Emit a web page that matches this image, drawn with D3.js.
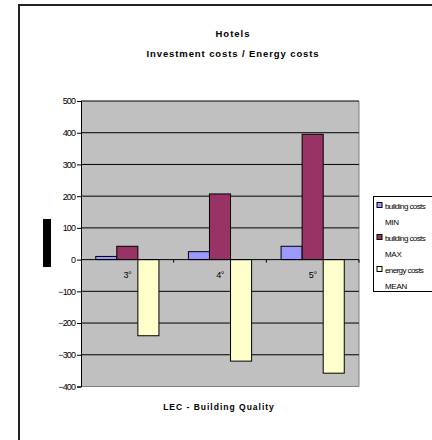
<!DOCTYPE html>
<html><head><meta charset="utf-8">
<script src="https://cdn.jsdelivr.net/npm/d3@7"></script>
<style>body{margin:0;background:#fff;}svg{display:block;font-family:"Liberation Sans",Arial,sans-serif;}</style>
</head><body><svg id="c" width="432" height="440"></svg>
<script>
const categories = ["3°", "4°", "5°"];
const seriesNames = ["building costs MIN", "building costs MAX", "energy costs MEAN"];
const legendLine1 = ["building costs", "building costs", "energy costs"];
const legendLine2 = ["MIN", "MAX", "MEAN"];
const buildingMin = [10, 25, 42];
const buildingMax = [42, 207, 395];
const energyMean = [-240, -320, -358];
const colors = ["#9999ff", "#993366", "#ffffcc"];
const yTicks = [500, 400, 300, 200, 100, 0, -100, -200, -300, -400];

const svg = d3.select("#c");
// outer chart border
svg.append("path").attr("d", "M19,441 L19,5 L433,5").attr("fill", "none").attr("stroke", "#222").attr("stroke-width", 2);

const L = 81, R = 359, T = 101, B = 386.5;
const y = d3.scaleLinear().domain([-400, 500]).range([B, T]);
const x0 = d3.scaleBand().domain(categories).range([L, R]).paddingInner(0).paddingOuter(0);
const x1 = d3.scaleBand().domain(seriesNames).range([0, x0.bandwidth()]).paddingOuter(0.7).paddingInner(0);

// plot background
svg.append("rect").attr("x", L).attr("y", T).attr("width", R - L).attr("height", B - T).attr("fill", "#c0c0c0");
svg.append("path").attr("d", `M${L},${B} L${R},${B} L${R},${T}`).attr("fill", "none").attr("stroke", "#808080").attr("stroke-width", 1);

// gridlines
svg.append("g").selectAll("line").data(yTicks.filter(d => d !== -400 && d !== 0)).join("line")
  .attr("x1", L).attr("x2", R).attr("y1", d => y(d)).attr("y2", d => y(d)).attr("stroke", "#000").attr("stroke-width", 1);

// y axis
const yAxis = d3.axisLeft(y).tickValues(yTicks).tickSize(4).tickPadding(2).tickFormat(d3.format("d"));
const ga = svg.append("g").attr("transform", `translate(${L},0)`).call(yAxis);
ga.select(".domain").attr("stroke", "#000");
ga.selectAll("text").attr("font-size", 9).attr("fill", "#000").attr("letter-spacing", -0.9);

// bars
const series = [buildingMin, buildingMax, energyMean];
const rows = [];
series.forEach((vals, si) => vals.forEach((v, ci) => rows.push({s: seriesNames[si], si, c: categories[ci], v})));
svg.append("g").selectAll("rect").data(rows).join("rect")
  .attr("x", d => x0(d.c) + x1(d.s))
  .attr("width", x1.bandwidth())
  .attr("y", d => y(Math.max(0, d.v)))
  .attr("height", d => Math.abs(y(d.v) - y(0)))
  .attr("fill", d => colors[d.si]).attr("stroke", "#000").attr("stroke-width", 1);

// zero axis line + category ticks
svg.append("line").attr("x1", L).attr("x2", R).attr("y1", y(0)).attr("y2", y(0)).attr("stroke", "#000");
const xAxis = d3.axisBottom(x0).tickSize(0).tickPadding(12);
const gx = svg.append("g").attr("transform", `translate(0,${y(0)})`).call(xAxis);
gx.select(".domain").remove();
gx.selectAll("text").attr("font-size", 9).attr("fill", "#000").attr("letter-spacing", -0.5);
svg.append("g").selectAll("line").data(categories.slice(1).concat(["end"])).join("line")
  .attr("x1", (d, i) => i < 2 ? x0(d) : R).attr("x2", (d, i) => i < 2 ? x0(d) : R)
  .attr("y1", y(0)).attr("y2", y(0) + 3).attr("stroke", "#000");

// titles
svg.append("text").attr("x", 233).attr("y", 37).attr("text-anchor", "middle").attr("font-size", 9.5).attr("font-weight", "bold").attr("letter-spacing", 1).text("Hotels");
svg.append("text").attr("x", 233).attr("y", 57).attr("text-anchor", "middle").attr("font-size", 9.5).attr("font-weight", "bold").attr("letter-spacing", 0.9).text("Investment costs / Energy costs");
svg.append("text").attr("x", 219).attr("y", 410).attr("text-anchor", "middle").attr("font-size", 8.5).attr("font-weight", "bold").attr("letter-spacing", 1).text("LEC - Building Quality");

// black box on left
svg.append("rect").attr("x", 43).attr("y", 219).attr("width", 8).attr("height", 48).attr("fill", "#000");

// legend
svg.append("rect").attr("x", 373.5).attr("y", 196.5).attr("width", 70).attr("height", 95).attr("fill", "#fff").attr("stroke", "#000");
const lg = svg.append("g").selectAll("g").data(seriesNames).join("g")
  .attr("transform", (d, i) => `translate(377,${202.5 + i * 32})`);
lg.append("rect").attr("width", 5).attr("height", 5).attr("fill", (d, i) => colors[i]).attr("stroke", "#000");
lg.append("text").attr("x", 8).attr("y", 6).attr("font-size", 8).attr("letter-spacing", -0.6).text((d, i) => legendLine1[i]);
lg.append("text").attr("x", 8).attr("y", 22).attr("font-size", 8).attr("letter-spacing", -0.3).text((d, i) => legendLine2[i]);
</script></body></html>
